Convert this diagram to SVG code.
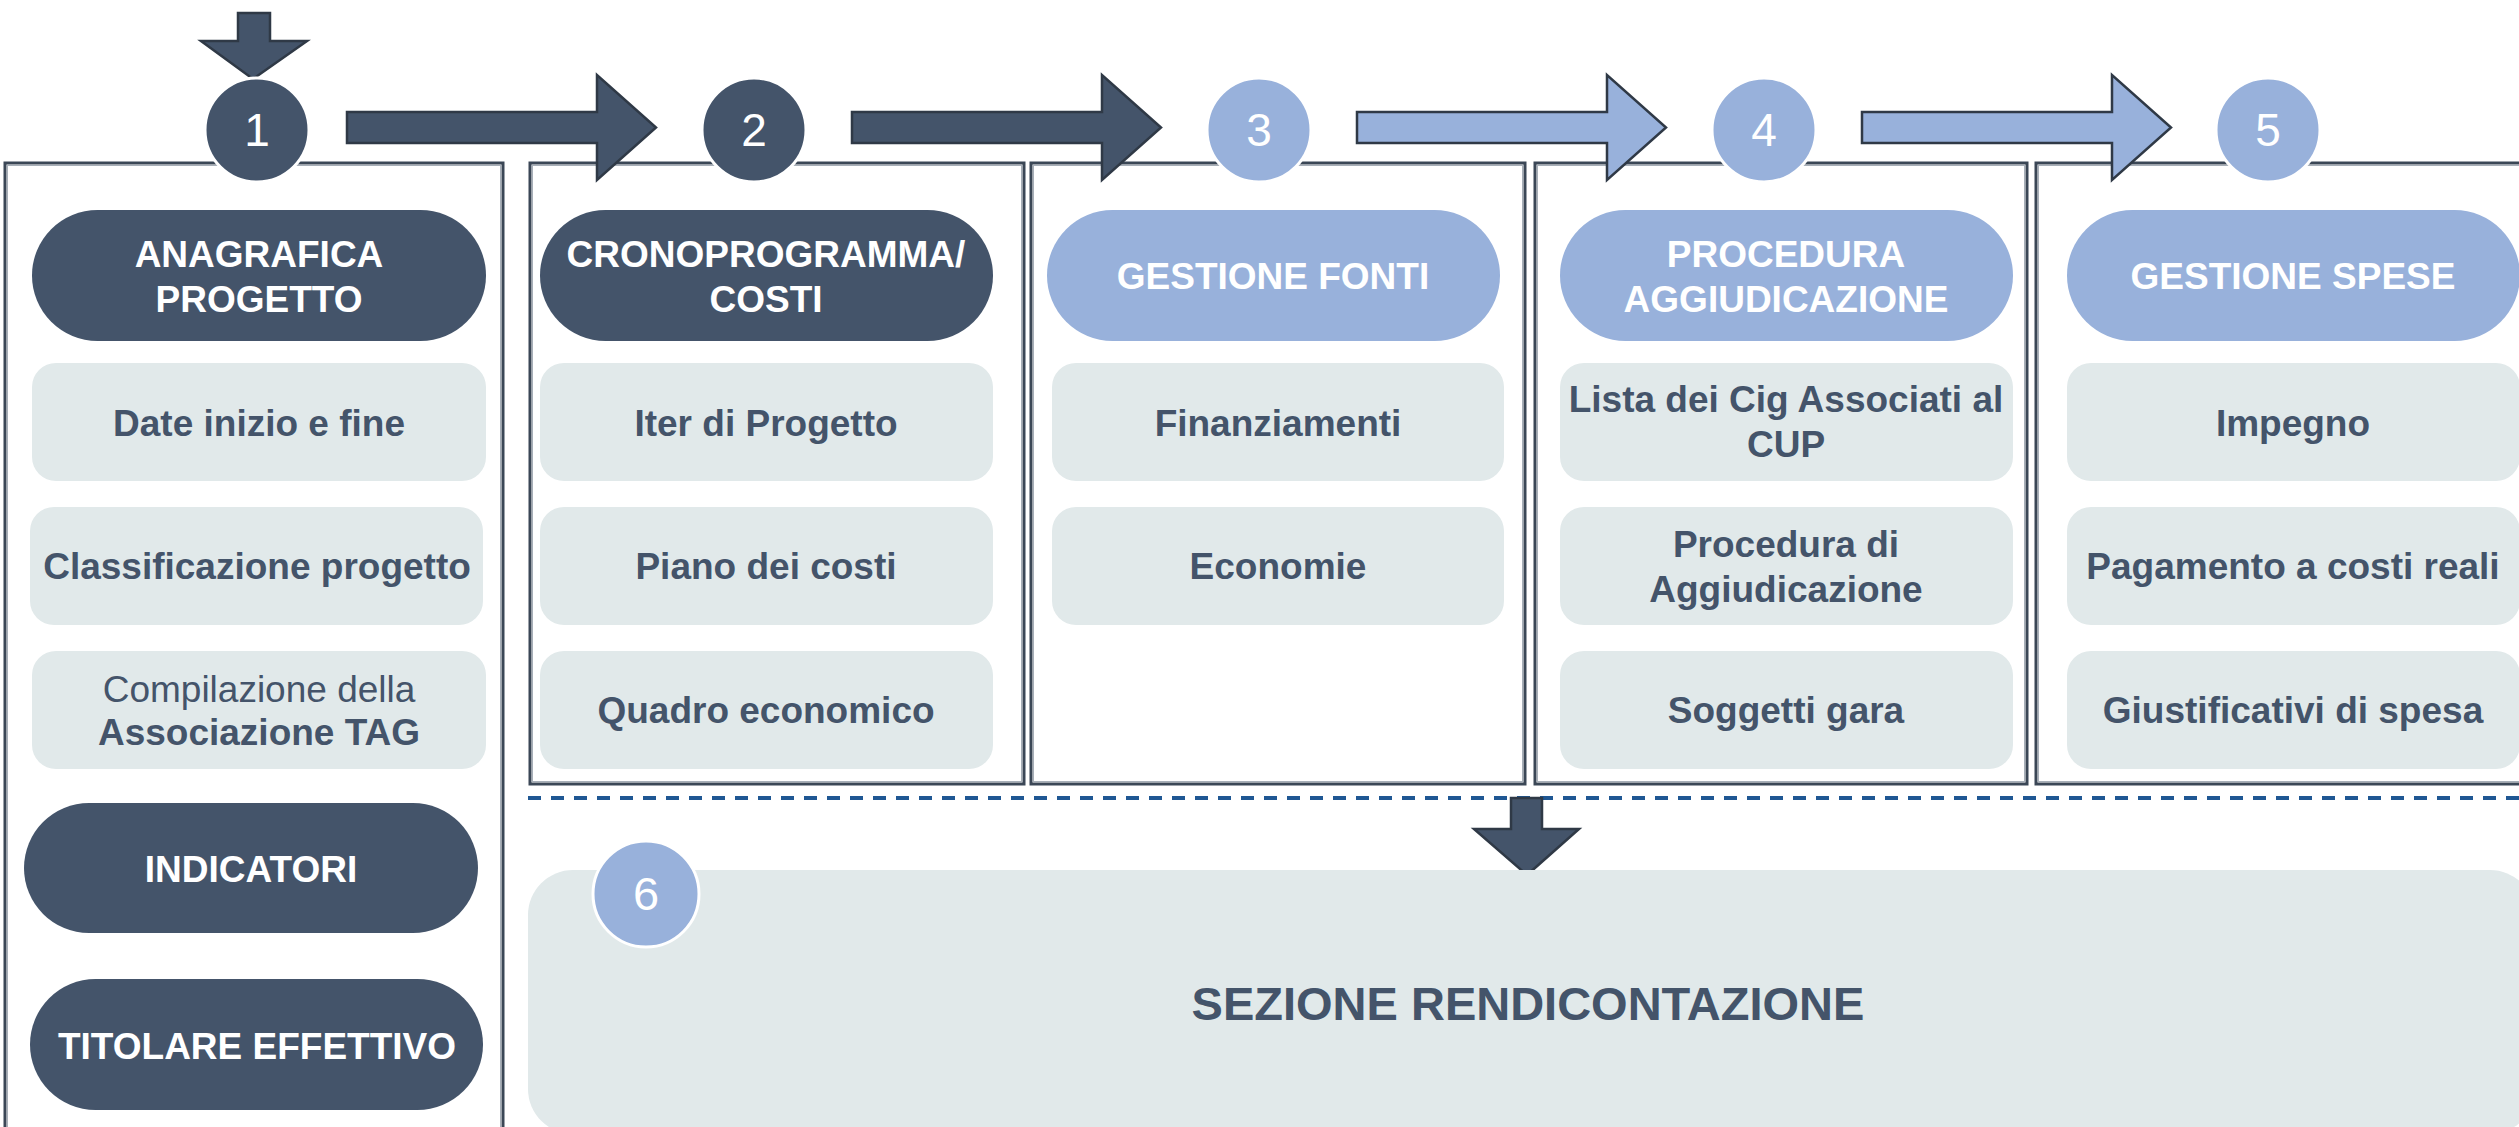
<svg xmlns="http://www.w3.org/2000/svg" width="2519" height="1127" viewBox="0 0 2519 1127">
<style>
.panel{fill:#ffffff;stroke:#3b4756;stroke-width:3}
.pin{fill:none;stroke:#a7afb8;stroke-width:1}
.pill-d{fill:#44546A}
.pill-l{fill:#98B1DB}
.box{fill:#E1E9EA}
.num{font-family:"Liberation Sans",Arial,sans-serif;font-size:46px;fill:#ffffff;text-anchor:middle}
.ht{font-family:"Liberation Sans",Arial,sans-serif;font-size:37px;font-weight:bold;fill:#ffffff;text-anchor:middle}
.bt{font-family:"Liberation Sans",Arial,sans-serif;font-size:37px;font-weight:bold;fill:#44546A;text-anchor:middle}
.rt{font-family:"Liberation Sans",Arial,sans-serif;font-size:37px;font-weight:normal;fill:#44546A;text-anchor:middle}
.cd{fill:#44546A;stroke:#ffffff;stroke-width:3}
.cl{fill:#98B1DB;stroke:#ffffff;stroke-width:3}
.ad{fill:#44546A;stroke:#2f3946;stroke-width:2.5;stroke-linejoin:miter}
.al{fill:#98B1DB;stroke:#2f3946;stroke-width:2.5;stroke-linejoin:miter}
</style>
<rect width="2519" height="1127" fill="#ffffff"/>

<g id="panels">
<rect class="panel" x="5" y="163" width="498" height="1000"/>
<rect class="pin" x="7.5" y="165.5" width="493" height="1000"/>
<rect class="panel" x="530" y="163" width="494" height="621"/>
<rect class="pin" x="532.5" y="165.5" width="489" height="616"/>
<rect class="panel" x="1031" y="163" width="494" height="621"/>
<rect class="pin" x="1033.5" y="165.5" width="489" height="616"/>
<rect class="panel" x="1535" y="163" width="492" height="621"/>
<rect class="pin" x="1537.5" y="165.5" width="487" height="616"/>
<rect class="panel" x="2036" y="163" width="520" height="621"/>
<rect class="pin" x="2038.5" y="165.5" width="515" height="616"/>
</g>

<g id="connectors">
<polygon class="ad" points="238,13 270,13 270,41 307,41 253,79 201,41 238,41"/>
<polygon class="ad" points="347,112 597,112 597,75 656,127.5 597,180 597,143 347,143"/>
<polygon class="ad" points="852,112 1102,112 1102,75 1161,127.5 1102,180 1102,143 852,143"/>
<polygon class="al" points="1357,112 1607,112 1607,75 1666,127.5 1607,180 1607,143 1357,143"/>
<polygon class="al" points="1862,112 2112,112 2112,75 2171,127.5 2112,180 2112,143 1862,143"/>
<line x1="528" y1="798" x2="2519" y2="798" stroke="#1F5793" stroke-width="4" stroke-dasharray="13 10"/>
<polygon class="ad" points="1511,798 1542,798 1542,829 1579,829 1527,875 1474,829 1511,829"/>
</g>

<g id="step1">
<circle class="cd" cx="257" cy="130" r="52"/>
<text class="num" x="257" y="146">1</text>
</g>
<g id="step2">
<circle class="cd" cx="754" cy="130" r="52"/>
<text class="num" x="754" y="146">2</text>
</g>
<g id="step3">
<circle class="cl" cx="1259" cy="130" r="52"/>
<text class="num" x="1259" y="146">3</text>
</g>
<g id="step4">
<circle class="cl" cx="1764" cy="130" r="52"/>
<text class="num" x="1764" y="146">4</text>
</g>
<g id="step5">
<circle class="cl" cx="2268" cy="130" r="52"/>
<text class="num" x="2268" y="146">5</text>
</g>

<g id="anagrafica">
<rect class="pill-d" x="32" y="210" width="454" height="131" rx="65.5"/>
<text class="ht" x="259" y="267">ANAGRAFICA</text>
<text class="ht" x="259" y="312">PROGETTO</text>
</g>
<g id="date">
<rect class="box" x="32" y="363" width="454" height="118" rx="24"/>
<text class="bt" x="259" y="436">Date inizio e fine</text>
</g>
<g id="classificazione">
<rect class="box" x="30" y="507" width="453" height="118" rx="24"/>
<text class="bt" x="257" y="579">Classificazione progetto</text>
</g>
<g id="compilazione">
<rect class="box" x="32" y="651" width="454" height="118" rx="24"/>
<text class="rt" x="259" y="702">Compilazione della</text>
<text class="bt" x="259" y="745">Associazione TAG</text>
</g>
<g id="indicatori">
<rect class="pill-d" x="24" y="803" width="454" height="130" rx="65"/>
<text class="ht" x="251" y="882">INDICATORI</text>
</g>
<g id="titolare">
<rect class="pill-d" x="30" y="979" width="453" height="131" rx="65.5"/>
<text class="ht" x="257" y="1059">TITOLARE EFFETTIVO</text>
</g>

<g id="cronoprogramma">
<rect class="pill-d" x="540" y="210" width="453" height="131" rx="65.5"/>
<text class="ht" x="766" y="267">CRONOPROGRAMMA/</text>
<text class="ht" x="766" y="312">COSTI</text>
</g>
<g id="iter">
<rect class="box" x="540" y="363" width="453" height="118" rx="24"/>
<text class="bt" x="766" y="436">Iter di Progetto</text>
</g>
<g id="piano">
<rect class="box" x="540" y="507" width="453" height="118" rx="24"/>
<text class="bt" x="766" y="579">Piano dei costi</text>
</g>
<g id="quadro">
<rect class="box" x="540" y="651" width="453" height="118" rx="24"/>
<text class="bt" x="766" y="723">Quadro economico</text>
</g>

<g id="fonti">
<rect class="pill-l" x="1047" y="210" width="453" height="131" rx="65.5"/>
<text class="ht" x="1273" y="289">GESTIONE FONTI</text>
</g>
<g id="finanziamenti">
<rect class="box" x="1052" y="363" width="452" height="118" rx="24"/>
<text class="bt" x="1278" y="436">Finanziamenti</text>
</g>
<g id="economie">
<rect class="box" x="1052" y="507" width="452" height="118" rx="24"/>
<text class="bt" x="1278" y="579">Economie</text>
</g>

<g id="procedura">
<rect class="pill-l" x="1560" y="210" width="453" height="131" rx="65.5"/>
<text class="ht" x="1786" y="267">PROCEDURA</text>
<text class="ht" x="1786" y="312">AGGIUDICAZIONE</text>
</g>
<g id="lista">
<rect class="box" x="1560" y="363" width="453" height="118" rx="24"/>
<text class="bt" x="1786" y="412">Lista dei Cig Associati al</text>
<text class="bt" x="1786" y="457">CUP</text>
</g>
<g id="proceduradi">
<rect class="box" x="1560" y="507" width="453" height="118" rx="24"/>
<text class="bt" x="1786" y="557">Procedura di</text>
<text class="bt" x="1786" y="602">Aggiudicazione</text>
</g>
<g id="soggetti">
<rect class="box" x="1560" y="651" width="453" height="118" rx="24"/>
<text class="bt" x="1786" y="723">Soggetti gara</text>
</g>

<g id="spese">
<rect class="pill-l" x="2067" y="210" width="453" height="131" rx="65.5"/>
<text class="ht" x="2293" y="289">GESTIONE SPESE</text>
</g>
<g id="impegno">
<rect class="box" x="2067" y="363" width="453" height="118" rx="24"/>
<text class="bt" x="2293" y="436">Impegno</text>
</g>
<g id="pagamento">
<rect class="box" x="2067" y="507" width="453" height="118" rx="24"/>
<text class="bt" x="2293" y="579">Pagamento a costi reali</text>
</g>
<g id="giustificativi">
<rect class="box" x="2067" y="651" width="453" height="118" rx="24"/>
<text class="bt" x="2293" y="723">Giustificativi di spesa</text>
</g>

<g id="rendicontazione">
<rect class="box" x="528" y="870" width="2007" height="264" rx="45"/>
<text class="bt" x="1528" y="1020" style="font-size:47px">SEZIONE RENDICONTAZIONE</text>
</g>
<g id="step6">
<circle class="cl" cx="646" cy="894" r="53"/>
<text class="num" x="646" y="910" style="font-size:47px">6</text>
</g>
</svg>
